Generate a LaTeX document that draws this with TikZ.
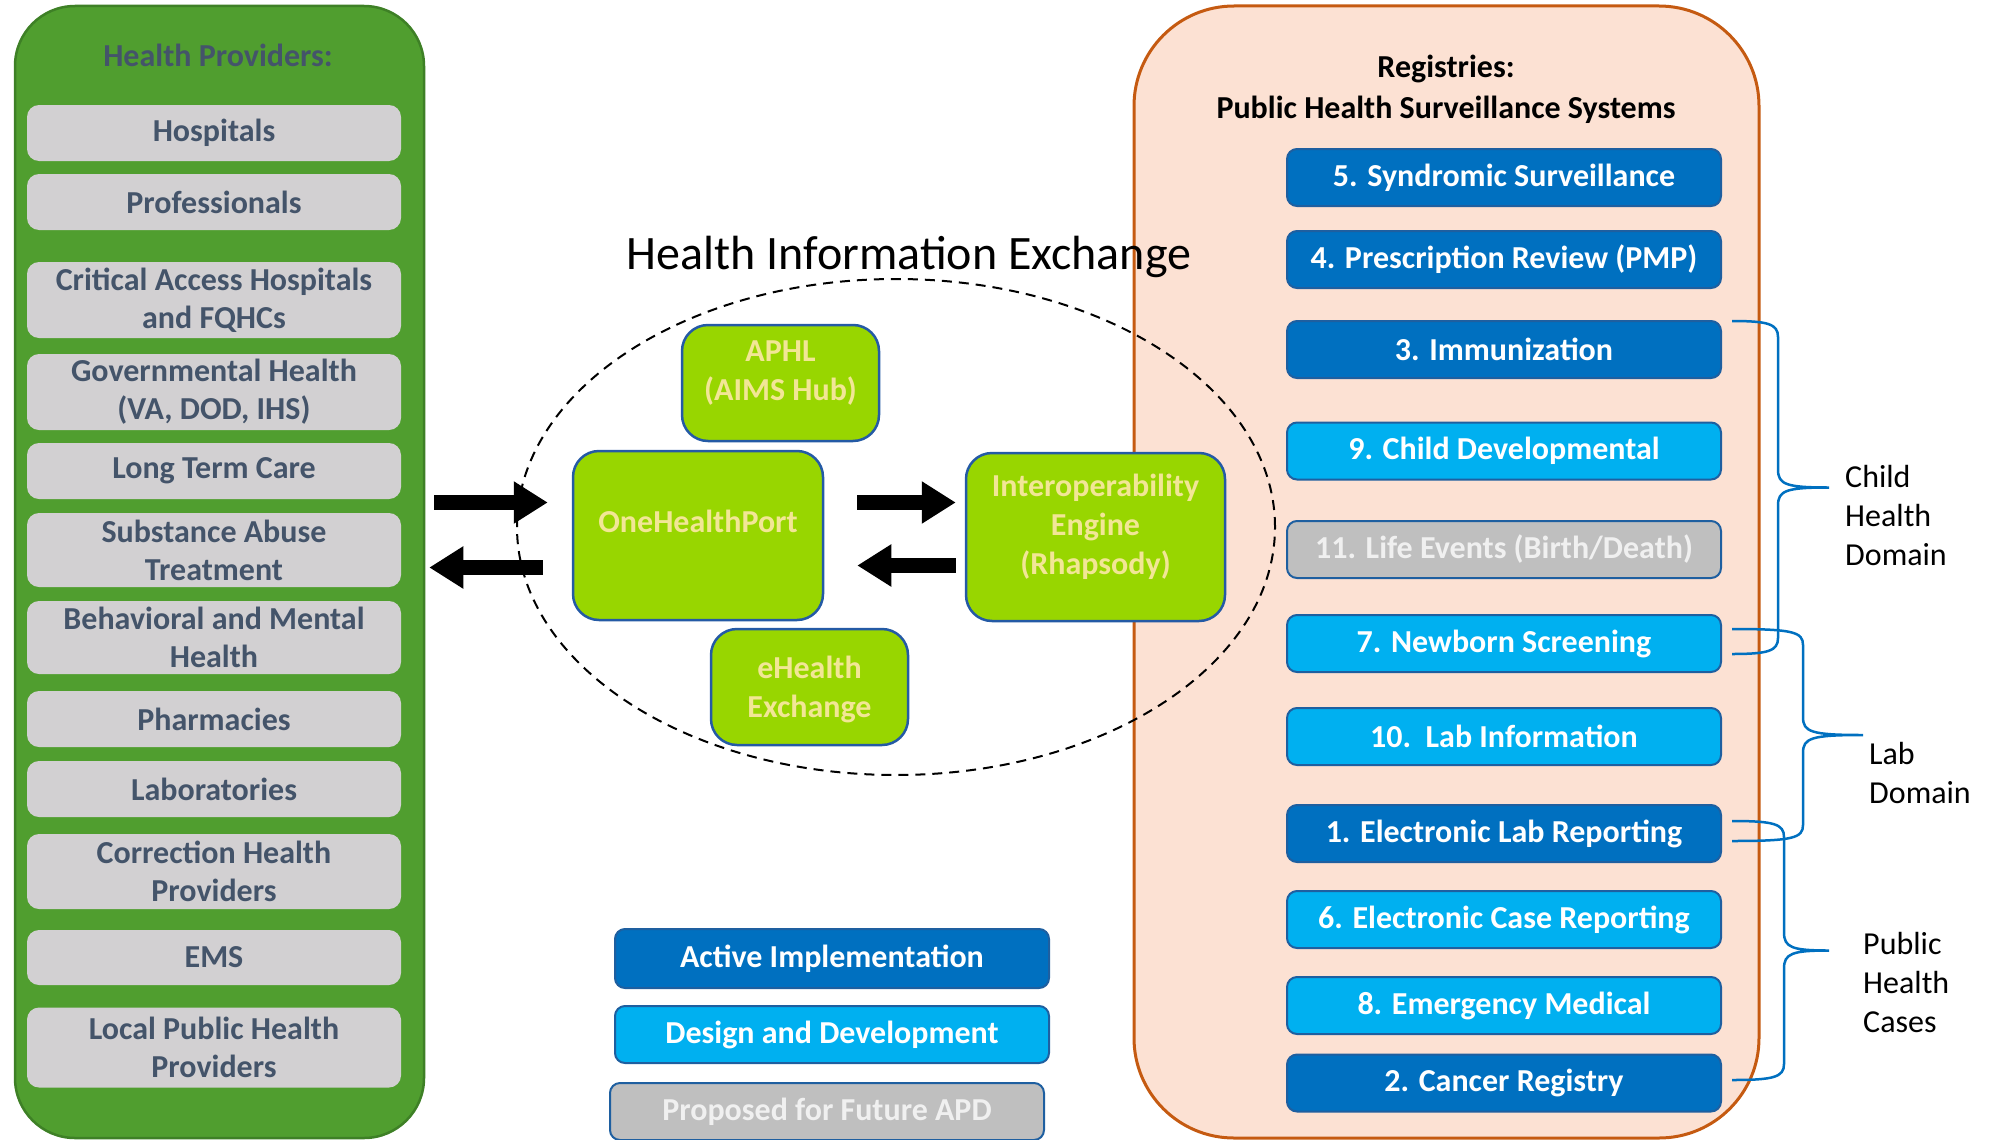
\documentclass[tikz,border=0pt]{standalone}
\usepackage{fontspec}
\setmainfont{Carlito}
\usepackage{xcolor}
\usepackage{tikz}
\usetikzlibrary{arrows.meta, positioning, calc, shapes.geometric}
\definecolor{provgreen}{RGB}{80,158,47}
\definecolor{provedge}{RGB}{62,128,38}
\definecolor{itemgray}{RGB}{210,208,210}
\definecolor{itemtext}{RGB}{68,84,106}
\definecolor{hiegreen}{RGB}{152,214,0}
\definecolor{hietext}{RGB}{242,230,150}
\definecolor{hieedge}{RGB}{36,90,165}
\definecolor{regfill}{RGB}{252,225,211}
\definecolor{regedge}{RGB}{197,90,17}
\definecolor{activeblue}{RGB}{0,112,192}
\definecolor{designblue}{RGB}{0,176,240}
\definecolor{futuregray}{RGB}{191,191,191}
\definecolor{futuretext}{RGB}{240,240,240}
\definecolor{boxedge}{RGB}{30,95,160}

\begin{document}
\begin{tikzpicture}[x=1pt, y=-1pt,
    bigfont/.style={font=\fontsize{32}{38}\selectfont\bfseries},
    provitem/.style={fill=itemgray, rounded corners=12pt, minimum width=374pt, text=itemtext, align=center, bigfont},
    hiebox/.style={draw=hieedge, line width=2.5pt, fill=hiegreen, rounded corners=26pt},
    hielabel/.style={text=hietext, align=center, font=\fontsize{32}{39}\selectfont\bfseries},
    regbox/.style={draw=boxedge, line width=2pt, rounded corners=10pt, minimum width=434pt, minimum height=57pt, text=white, bigfont},
    activebox/.style={regbox, fill=activeblue},
    designbox/.style={regbox, fill=designblue},
    futurebox/.style={regbox, fill=futuregray, text=futuretext},
    fatarrow/.style={line width=15pt, -{Triangle[length=34pt, width=40pt]}},
    domainbrace/.style={draw=activeblue, line width=2.5pt},
    domainlabel/.style={anchor=west, inner sep=0pt, align=left, font=\fontsize{32}{39}\selectfont}
]
    \useasboundingbox (0,0) rectangle (1991,1140);

    % health providers
    \node[draw=provedge, line width=2.5pt, fill=provgreen, rounded corners=60pt,
          minimum width=409pt, minimum height=1132pt] (prov) at (219.5,572) {};
    \node[bigfont, text=itemtext] (provtitle) at (218,55) {Health Providers:};
    \foreach \y/\h/\t [count=\i] in {133/56/Hospitals, 202/56/Professionals,
        300/76/{Critical Access Hospitals\\and FQHCs}, 392/76/{Governmental Health\\(VA, DOD, IHS)},
        471/56/{Long Term Care}, 550/74/{Substance Abuse\\Treatment},
        637.5/73/{Behavioral and Mental\\Health}, 719/56/Pharmacies, 789/56/Laboratories,
        871.5/75/{Correction Health\\Providers}, 957.5/55/EMS, 1047.5/80/{Local Public Health\\Providers}} {
        \node[provitem, minimum height=\h pt] (p\i) at (214,\y) {\t};
    }

    % registries
    \node[draw=regedge, line width=3pt, fill=regfill, rounded corners=100pt,
          minimum width=625pt, minimum height=1132pt] (reg) at (1446.5,572) {};
    \node[align=center, font=\fontsize{32}{41}\selectfont\bfseries] (regtitle) at (1446,89)
        {Registries:\\Public Health Surveillance Systems};
    \foreach \y/\s/\t [count=\i] in {177.5/activebox/{5. Syndromic Surveillance},
        259.5/activebox/{4. Prescription Review (PMP)}, 349.5/activebox/{3. Immunization},
        451/designbox/{9. Child Developmental}, 549.5/futurebox/{11. Life Events (Birth/Death)},
        643.5/designbox/{7. Newborn Screening}, 736.5/designbox/{10.\ \ Lab Information},
        833.5/activebox/{1. Electronic Lab Reporting}, 919.5/designbox/{6. Electronic Case Reporting},
        1005.5/designbox/{8. Emergency Medical}, 1083/activebox/{2. Cancer Registry}} {
        \node[\s] (r\i) at (1504,\y) {\t};
    }

    % health information exchange
    \node[draw, ellipse, dash pattern=on 10pt off 7pt, line width=2pt,
          minimum width=758pt, minimum height=496pt] (hie) at (896,527) {};
    \node[font=\fontsize{48}{56}\selectfont] (hietitle) at (909,257) {Health Information Exchange};
    \node[hiebox, minimum width=197pt, minimum height=116pt,
          label={[hielabel, yshift=10pt]center:APHL\\(AIMS Hub)}] (aphl) at (780.5,383) {};
    \node[hiebox, minimum width=250pt, minimum height=169pt,
          label={[hielabel, yshift=14pt]center:OneHealthPort}] (ohp) at (698,535.5) {};
    \node[hiebox, minimum width=259pt, minimum height=168pt,
          label={[hielabel, yshift=10pt]center:Interoperability\\Engine\\(Rhapsody)}] (engine) at (1095.5,537) {};
    \node[hiebox, minimum width=197pt, minimum height=116pt,
          label={[hielabel, yshift=-2pt]center:eHealth\\Exchange}] (ehx) at (809.5,687) {};

    % arrows
    \draw[fatarrow, shorten <=9pt, shorten >=24pt] ($(prov.east |- ohp.west)+(0,-33)$) -- ($(ohp.west)+(0,-33)$);
    \draw[fatarrow, shorten <=29pt, shorten >=4pt] ($(ohp.west)+(0,32)$) -- ($(prov.east |- ohp.west)+(0,32)$);
    \draw[fatarrow, shorten <=33pt, shorten >=9pt] ($(ohp.east)+(0,-33)$) -- ($(engine.west |- ohp.east)+(0,-33)$);
    \draw[fatarrow, shorten <=9pt, shorten >=33pt] ($(engine.west |- ohp.east)+(0,30)$) -- ($(ohp.east)+(0,30)$);

    % domains
    \foreach \yt/\yb/\xv/\xt in {321/654/1778/1829, 629/841/1803/1863, 821/1080/1784/1829} {
        \pgfmathsetmacro{\ym}{(\yt+\yb)/2}
        \draw[domainbrace] (1732,\yt) .. controls (\xv-10,\yt) and (\xv,\yt+3) .. (\xv,\yt+16)
            -- (\xv,\ym-18) .. controls (\xv,\ym-3) and (\xv+8,\ym) .. (\xt,\ym)
            .. controls (\xv+8,\ym) and (\xv,\ym+3) .. (\xv,\ym+18)
            -- (\xv,\yb-16) .. controls (\xv,\yb-3) and (\xv-10,\yb) .. (1732,\yb);
    }
    \node[domainlabel] (child) at (1845,516) {Child\\Health\\Domain};
    \node[domainlabel] (lab) at (1869,773) {Lab\\Domain};
    \node[domainlabel] (cases) at (1863,982) {Public\\Health\\Cases};

    % legend
    \node[activebox, minimum height=59pt] (legact) at (832,958.5) {Active Implementation};
    \node[designbox, below=16pt of legact] (legdes) {Design and Development};
    \node[futurebox, below=18pt of legdes, xshift=-5pt] (legfut) {Proposed for Future APD};
\end{tikzpicture}
\end{document}
